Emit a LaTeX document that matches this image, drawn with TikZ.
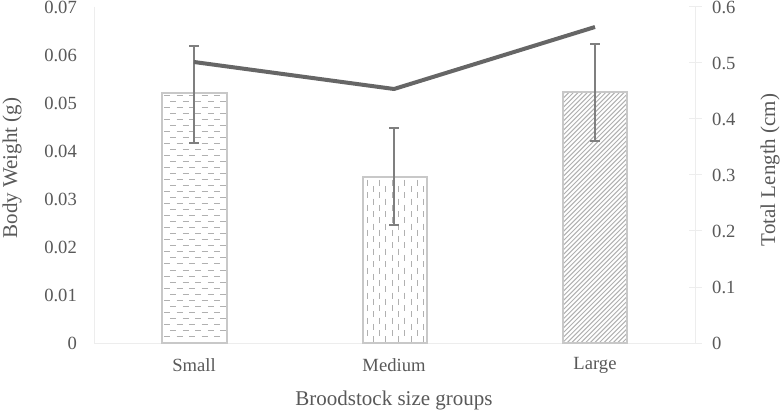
\documentclass[tikz,border=0pt]{standalone}
\usepackage{fontspec}
\setmainfont{Liberation Serif}
\begin{document}
\begin{tikzpicture}[x=1pt,y=-1pt,
  lbl/.style={inner sep=0pt,text=txt,font=\fontsize{18.6}{20}\selectfont},
  ttl/.style={inner sep=0pt,text=txt,font=\fontsize{21}{24}\selectfont},
  axisline/.style={draw=axc,line width=1pt},
  barbox/.style={draw=barc,line width=2pt},
  pat/.style={draw=patc,line width=1pt},
  errbar/.style={draw=errc,line width=2pt},
  series/.style={draw=linec,line width=4pt,line join=round}]
\definecolor{txt}{HTML}{595959}
\definecolor{axc}{HTML}{EDEDED}
\definecolor{barc}{HTML}{C8C8C8}
\definecolor{patc}{HTML}{B0B0B0}
\definecolor{errc}{HTML}{7F7F7F}
\definecolor{linec}{HTML}{666666}
\useasboundingbox (0,0) rectangle (783,411);
\fill[white] (0,0) rectangle (783,411);
% faint axes
\draw[axisline] (94,7) -- (94,343);
\draw[axisline] (695,7) -- (695,343);
\draw[axisline] (94,343) -- (695,343);
\foreach \k in {0,...,6} {\draw[axisline] (689,{343-56*\k}) -- (702,{343-56*\k});}
% left tick labels
\foreach \v/\k in {0/0,0.01/1,0.02/2,0.03/3,0.04/4,0.05/5,0.06/6,0.07/7}
  {\node[lbl,anchor=east] (l\k) at (77,{343-48*\k}) {\v};}
% right tick labels
\foreach \v/\k in {0/0,0.1/1,0.2/2,0.3/3,0.4/4,0.5/5,0.6/6}
  {\node[lbl,anchor=west] (r\k) at (712,{343-56*\k}) {\v};}
% Small bar: horizontal dashes
\begin{scope}
\clip (162,93) rectangle (227,343);
\foreach \r in {0,...,41} {
  \pgfmathsetmacro{\yy}{96+6*\r}
  \pgfmathsetmacro{\ph}{mod(\r,2)*6.25}
  \draw[pat,dash pattern=on 6pt off 6.5pt,dash phase=\ph pt] (164,\yy) -- (227,\yy);}
\end{scope}
\draw[barbox] (162,343) rectangle (227,93);
% Medium bar: vertical dashes
\begin{scope}
\clip (363,177) rectangle (427,343);
\foreach \c in {0,...,10} {
  \pgfmathsetmacro{\xx}{367+6.3*\c}
  \pgfmathsetmacro{\ph}{mod(\c,2)*6.25}
  \draw[pat,dash pattern=on 6pt off 6.5pt,dash phase=\ph pt] (\xx,180) -- (\xx,343);}
\end{scope}
\draw[barbox] (363,343) rectangle (427,177);
% Large bar: diagonal lines
\begin{scope}
\clip (563,92) rectangle (627,343);
\foreach \d in {0,...,72} {
  \pgfmathsetmacro{\xx}{300+4.6*\d}
  \draw[pat] (\xx,343) -- ({\xx+260},83);}
\end{scope}
\draw[barbox] (563,343) rectangle (627,92);
% error bars
\foreach \x/\t/\b in {194/46/143, 394/128/225, 595/44/141} {
  \draw[errbar] (\x,\t) -- (\x,\b);
  \draw[errbar] ({\x-5},\t) -- ({\x+5},\t);
  \draw[errbar] ({\x-5},\b) -- ({\x+5},\b);}
% line series
\coordinate (p1) at (194,62);
\coordinate (p2) at (394,89);
\coordinate (p3) at (595,27);
\draw[series] (p1) -- (p2) -- (p3);
% category labels
\node[lbl] (cs) at (194,365) {Small};
\node[lbl] (cm) at (394,365) {Medium};
\node[lbl] (cl) at (595,365) {Large};
% axis titles
\node[ttl] (xt) at (394,400) {Broodstock size groups};
\node[ttl,rotate=90] (yl) at (12,168) {Body Weight (g)};
\node[ttl,rotate=90] (yr) at (770,170) {Total Length (cm)};
\end{tikzpicture}
\end{document}
